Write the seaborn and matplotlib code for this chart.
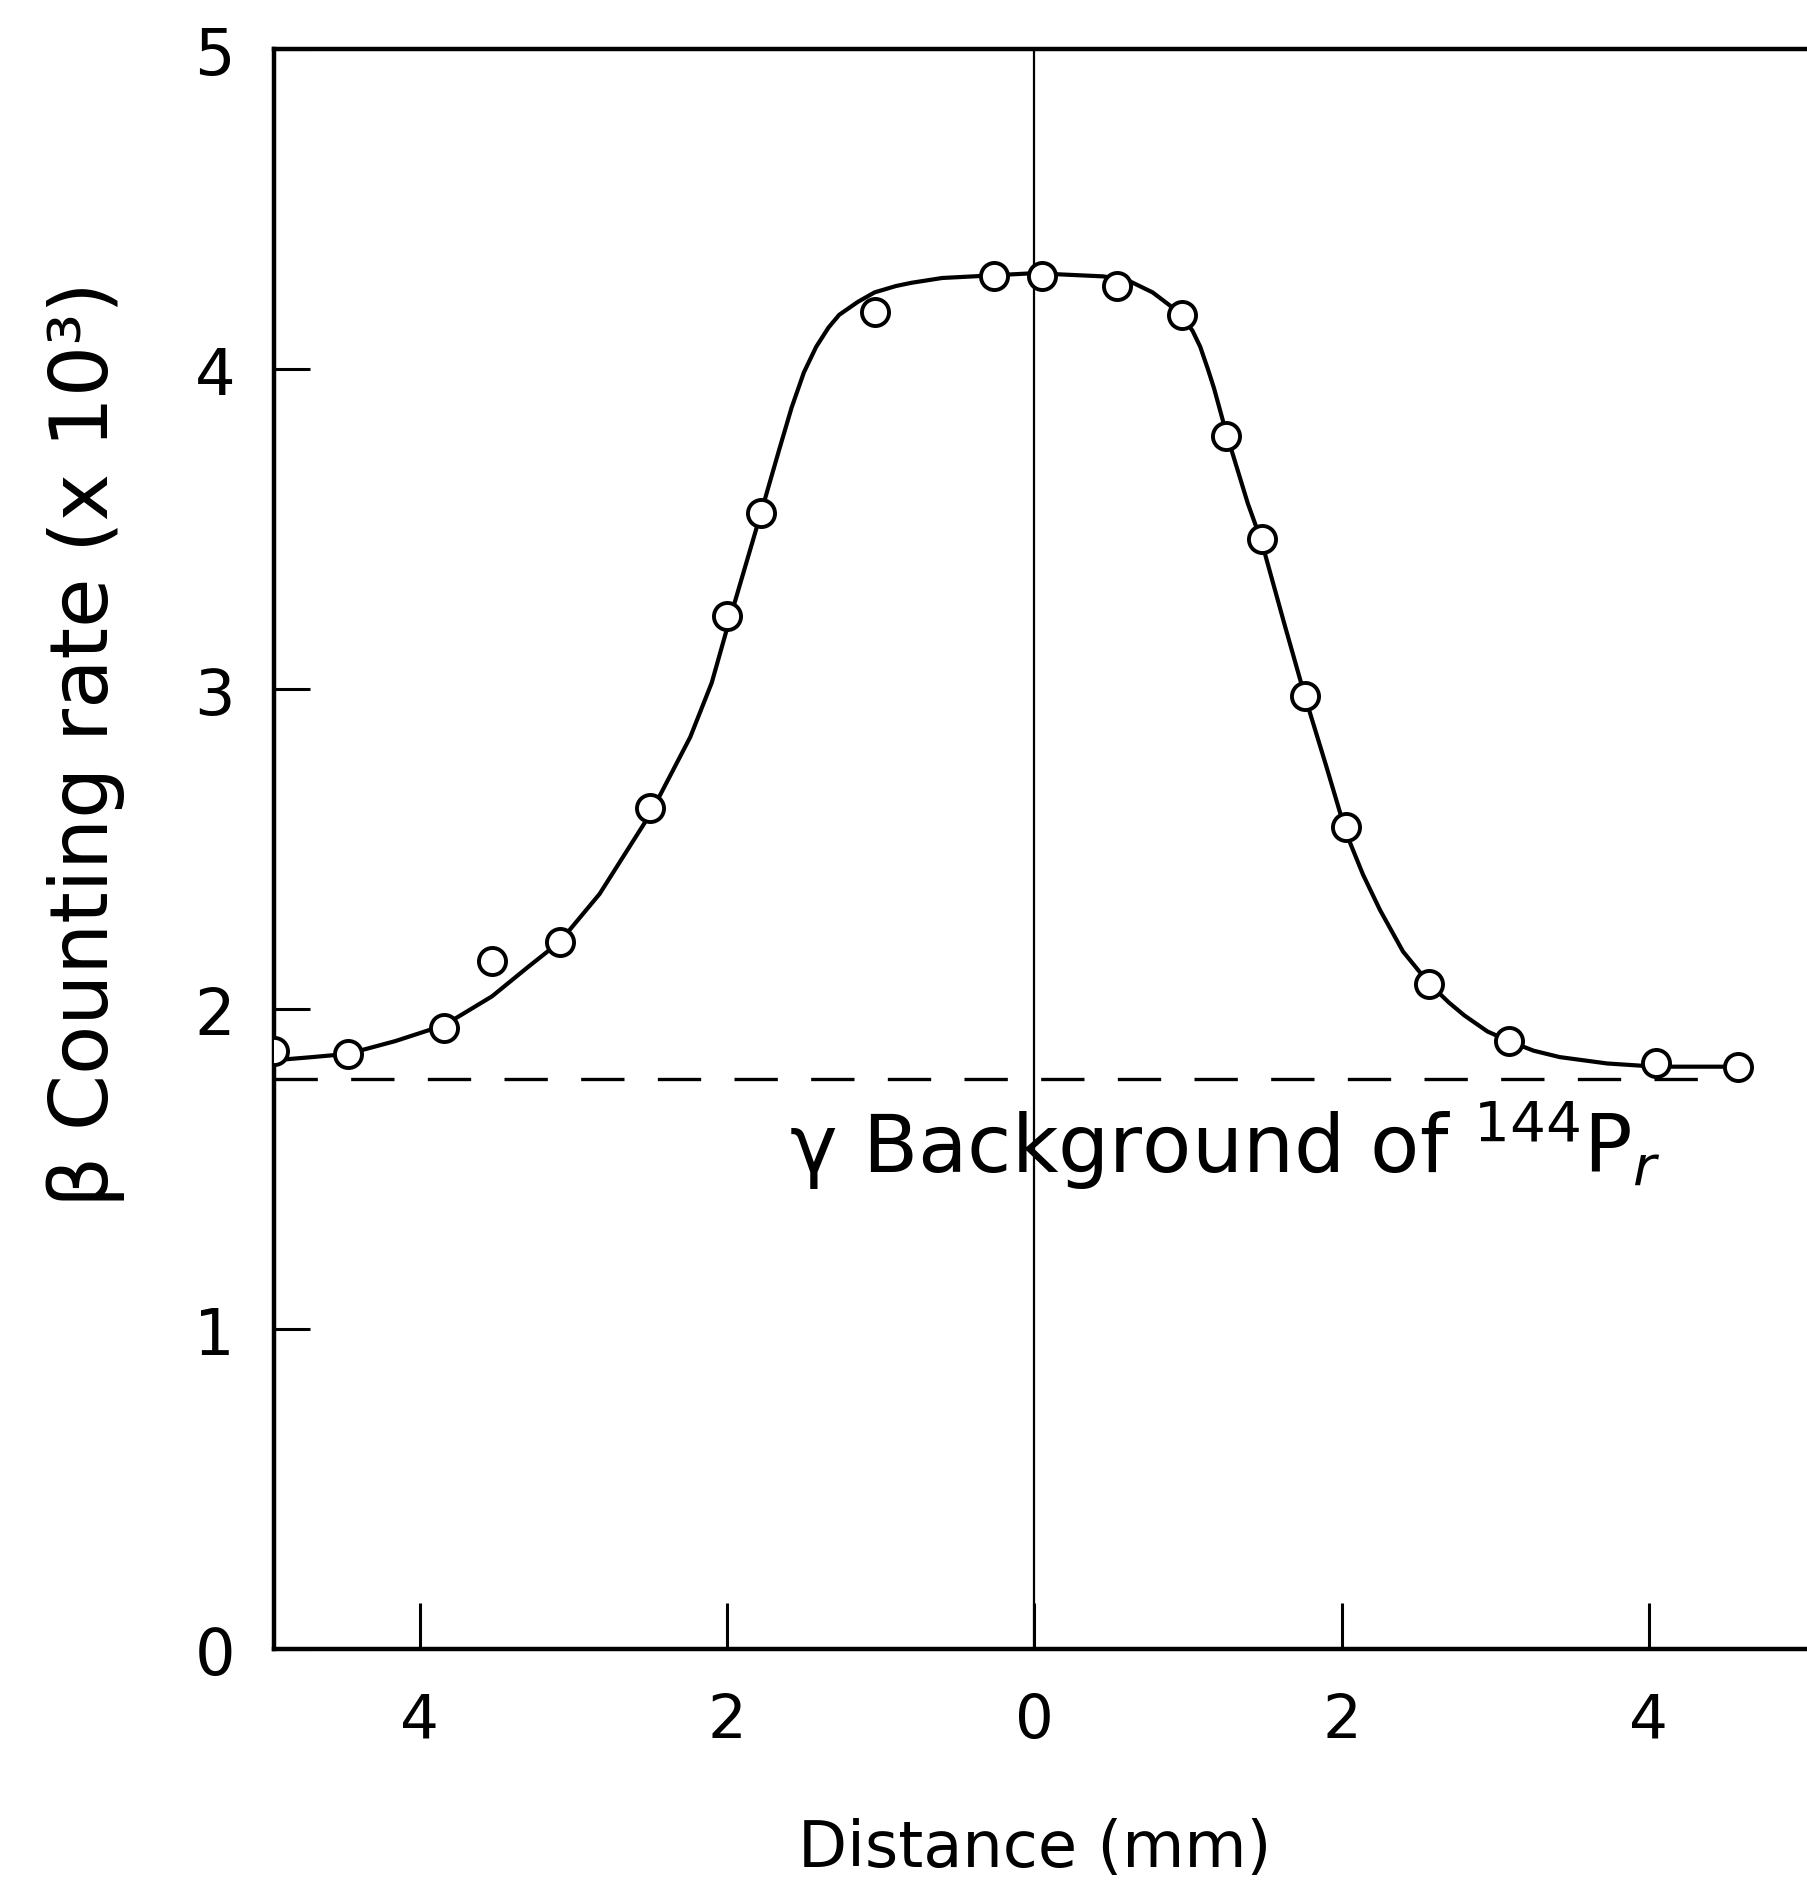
import matplotlib
matplotlib.use("Agg")
import matplotlib.pyplot as plt
import seaborn as sns

# measured points
pt_x = [-4.95, -4.47, -3.84, -3.53, -3.09, -2.50, -2.00, -1.78, -1.04, -0.26, 0.05,
        0.54, 0.96, 1.25, 1.48, 1.76, 2.03, 2.57, 3.09, 4.05, 4.58]
pt_y = [1.87, 1.86, 1.94, 2.15, 2.21, 2.63, 3.23, 3.55, 4.18, 4.29, 4.29,
        4.26, 4.17, 3.79, 3.47, 2.98, 2.57, 2.08, 1.90, 1.83, 1.82]

# hand-drawn curve
curve_x = [-4.95, -4.70, -4.47, -4.16, -3.84, -3.53, -3.30, -3.09, -2.83, -2.50,
           -2.24, -2.10, -2.00, -1.89, -1.78, -1.66, -1.58, -1.50, -1.42, -1.34,
           -1.27, -1.15, -1.04, -0.90, -0.80, -0.60, -0.40, 0.00, 0.45, 0.62,
           0.77, 0.88, 0.96, 1.03, 1.08, 1.13, 1.17, 1.25, 1.39, 1.48, 1.63,
           1.76, 1.90, 2.03, 2.14, 2.25, 2.40, 2.57, 2.70, 2.80, 2.95, 3.09,
           3.25, 3.42, 3.73, 4.05, 4.58]
curve_y = [1.84, 1.85, 1.86, 1.90, 1.95, 2.04, 2.13, 2.21, 2.36, 2.61,
           2.85, 3.02, 3.19, 3.37, 3.55, 3.75, 3.88, 3.99, 4.07, 4.13,
           4.17, 4.21, 4.24, 4.26, 4.27, 4.285, 4.29, 4.30, 4.29, 4.275,
           4.24, 4.20, 4.165, 4.12, 4.07, 4.00, 3.94, 3.80, 3.58, 3.46, 3.20,
           2.98, 2.76, 2.55, 2.42, 2.31, 2.18, 2.08, 2.02, 1.98, 1.93, 1.90,
           1.87, 1.85, 1.83, 1.82, 1.82]

bg_x = [-4.95, 4.60]
bg_level = [1.78, 1.78]

x_ticks = [-4, -2, 0, 2, 4]
x_tick_labels = ["4", "2", "0", "2", "4"]
y_ticks = [0, 1, 2, 3, 4, 5]
y_tick_labels = ["0", "1", "2", "3", "4", "5"]

sns.set_style("ticks")
plt.rcParams['font.family'] = ['DejaVu Sans']
plt.rcParams['text.color'] = 'black'
plt.rcParams['axes.labelcolor'] = 'black'

fig = plt.figure(figsize=(18.07, 18.81), dpi=100)
ax = fig.add_axes([0.1516, 0.1228, 0.8484, 0.8505])

ax.axvline(0, color="black", lw=1.6, zorder=1)

sns.lineplot(x=bg_x, y=bg_level, ax=ax, color="black", lw=2.4,
             linestyle=(0, (13, 10)), zorder=2)
sns.lineplot(x=curve_x, y=curve_y, ax=ax, color="black", lw=3.0, sort=False,
             zorder=3)
sns.scatterplot(x=pt_x, y=pt_y, ax=ax, s=380, facecolor="white",
                edgecolor="black", linewidth=2.8, zorder=4)

ax.set_xlim(-4.95, 5.03)
ax.set_ylim(0, 5)
ax.set_xticks(x_ticks)
ax.set_xticklabels(x_tick_labels)
ax.set_yticks(y_ticks)
ax.set_yticklabels(y_tick_labels)

ax.tick_params(axis="x", direction="in", length=33, width=2.2, pad=30,
               labelsize=44, colors="black")
ax.tick_params(axis="y", direction="in", length=26, width=2.2, pad=28,
               labelsize=46, colors="black")

for side in ["left", "bottom", "top"]:
    ax.spines[side].set_linewidth(3.2)
    ax.spines[side].set_color("black")
ax.spines["right"].set_visible(False)

ax.set_xlabel("Distance (mm)", fontsize=46)
ax.xaxis.set_label_coords(0.496, -0.105)
ax.set_ylabel("β Counting rate (x 10³)", fontsize=58)
ax.yaxis.set_label_coords(-0.097, 0.566)

ax.text(-1.60, 1.49, r"γ Background of $^{144}$P$_r$", fontsize=58,
        ha="left", va="baseline", color="black")

fig.savefig("out.png", dpi=100)
